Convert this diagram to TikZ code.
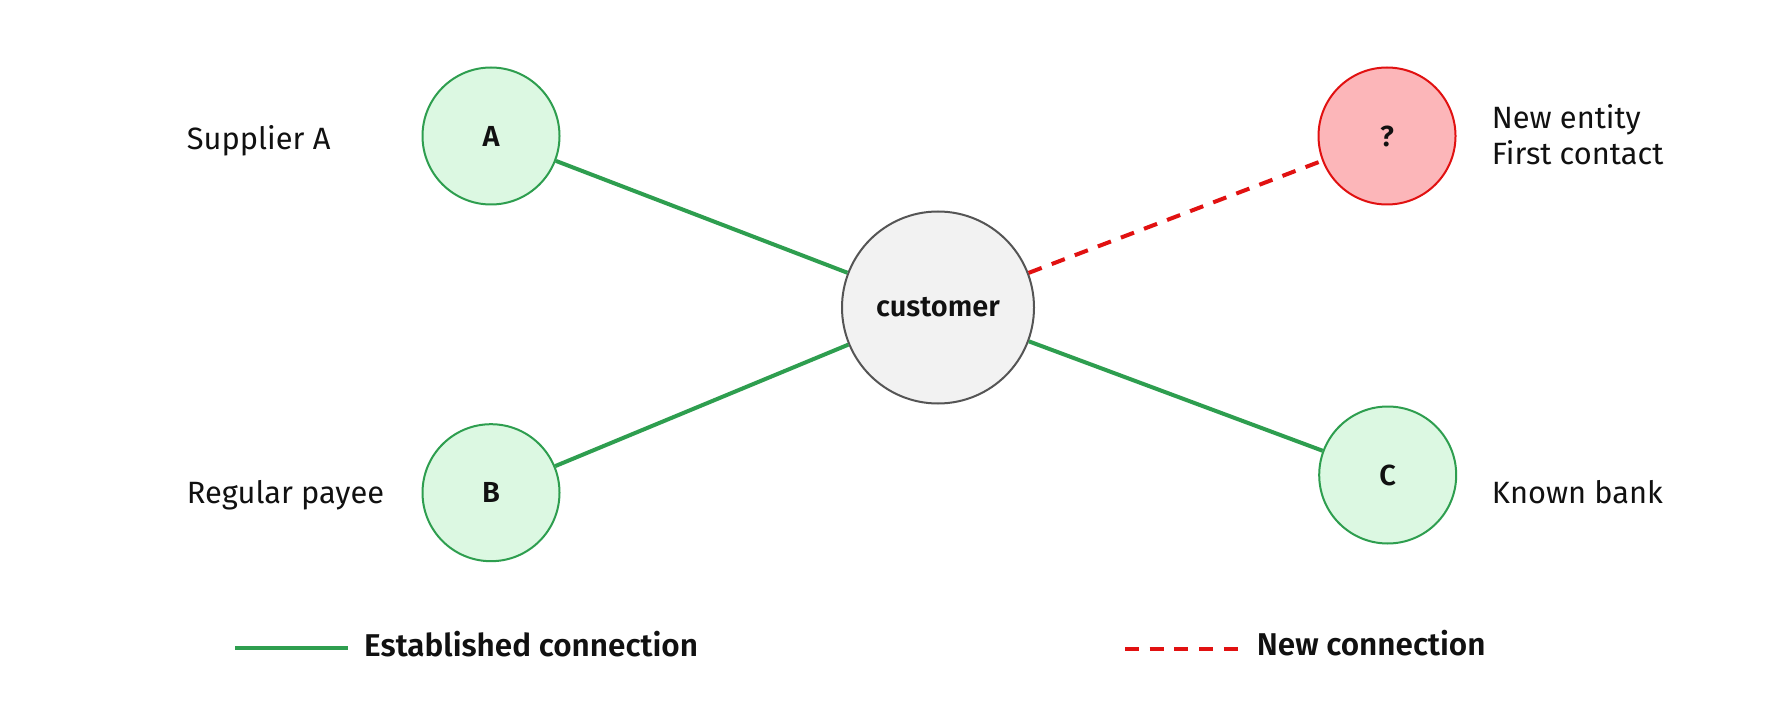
\documentclass[tikz,border=0pt]{standalone}
\usepackage{fontspec}
\setmainfont{Fira Sans}[BoldFont={Fira Sans SemiBold}]
\definecolor{grn}{RGB}{46,158,79}
\definecolor{grnfill}{RGB}{220,248,226}
\definecolor{redline}{RGB}{225,17,17}
\definecolor{redfill}{RGB}{252,182,185}
\definecolor{custfill}{RGB}{242,242,242}
\definecolor{custline}{RGB}{85,85,85}
\definecolor{txt}{RGB}{17,17,17}
\tikzset{
  ent/.style={circle, draw=grn, fill=grnfill, line width=2pt, minimum size=137pt, inner sep=0pt, font=\fontsize{29}{32}\selectfont\bfseries, text=txt},
  newent/.style={circle, draw=redline, fill=redfill, line width=2pt, minimum size=137pt, inner sep=0pt, font=\fontsize{29}{32}\selectfont\bfseries, text=txt},
  cust/.style={circle, draw=custline, fill=custfill, line width=2pt, minimum size=192pt, inner sep=0pt, font=\fontsize{29}{32}\selectfont\bfseries, text=txt},
  estab/.style={draw=grn, line width=4pt},
  newconn/.style={draw=redline, line width=4pt, dash pattern=on 14pt off 10.7pt},
  lbl/.style={anchor=base west, inner sep=0pt, font=\fontsize{30.8}{36}\selectfont, text=txt, align=left},
  leg/.style={anchor=base west, inner sep=0pt, font=\fontsize{31.5}{34}\selectfont\bfseries, text=txt},
}
\begin{document}
\begin{tikzpicture}[x=1pt,y=-1pt]
\useasboundingbox[fill=white] (0,0) rectangle (1785,708);
\node[ent] (A) at (491,136) {A};
\node[ent] (B) at (491,492.7) {B};
\node[cust] (cust) at (938,307.5) {customer};
\node[newent] (Q) at (1387,136) {?};
\node[ent] (C) at (1387.7,475) {C};
\draw[estab] (A) -- (cust);
\draw[estab] (B) -- (cust);
\draw[estab] (cust) -- (C);
\draw[newconn] (cust) -- (Q);
\node[lbl] (la) at (186.7,150) {Supplier A};
\node[lbl] (lb) at (186.7,503.3) {Regular payee};
\node[lbl, anchor=north west] (lq) at (1491.7,104) {New entity\\First contact};
\node[lbl] (lc) at (1491.7,503.3) {Known bank};
\coordinate (g1) at (235,647.7);
\coordinate (g2) at (348.3,647.7);
\draw[estab] (g1) -- (g2);
\node[leg] (lg) at (364,656) {Established connection};
\coordinate (r1) at (1125,649);
\coordinate (r2) at (1237.7,649);
\draw[newconn] (r1) -- (r2);
\node[leg] (lr) at (1256.7,655) {New connection};
\end{tikzpicture}
\end{document}
